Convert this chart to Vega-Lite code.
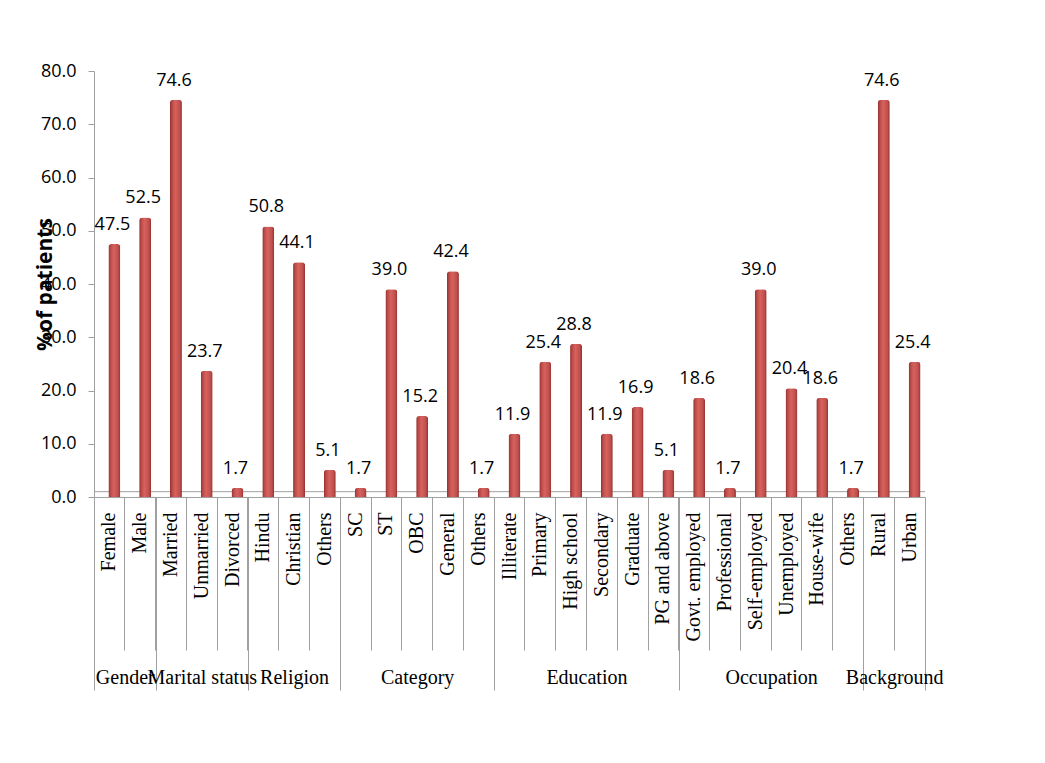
{
  "$schema": "https://vega.github.io/schema/vega-lite/v6.json",
  "width": 831,
  "height": 426,
  "autosize": {"type": "none"},
  "padding": {"left": 94, "top": 71, "right": 120, "bottom": 266},
  "background": "white",
  "config": {"view": {"stroke": null}, "font": "Open Sans"},
  "datasets": {
    "bars": [
      {"key": "Gender|Female", "group": "Gender", "value": 47.5},
      {"key": "Gender|Male", "group": "Gender", "value": 52.5},
      {"key": "Marital status|Married", "group": "Marital status", "value": 74.6},
      {"key": "Marital status|Unmarried", "group": "Marital status", "value": 23.7},
      {"key": "Marital status|Divorced", "group": "Marital status", "value": 1.7},
      {"key": "Religion|Hindu", "group": "Religion", "value": 50.8},
      {"key": "Religion|Christian", "group": "Religion", "value": 44.1},
      {"key": "Religion|Others", "group": "Religion", "value": 5.1},
      {"key": "Category|SC", "group": "Category", "value": 1.7},
      {"key": "Category|ST", "group": "Category", "value": 39.0},
      {"key": "Category|OBC", "group": "Category", "value": 15.2},
      {"key": "Category|General", "group": "Category", "value": 42.4},
      {"key": "Category|Others", "group": "Category", "value": 1.7},
      {"key": "Education|Illiterate", "group": "Education", "value": 11.9},
      {"key": "Education|Primary", "group": "Education", "value": 25.4},
      {"key": "Education|High school", "group": "Education", "value": 28.8},
      {"key": "Education|Secondary", "group": "Education", "value": 11.9},
      {"key": "Education|Graduate", "group": "Education", "value": 16.9},
      {"key": "Education|PG and above", "group": "Education", "value": 5.1},
      {"key": "Occupation|Govt. employed", "group": "Occupation", "value": 18.6},
      {"key": "Occupation|Professional", "group": "Occupation", "value": 1.7},
      {"key": "Occupation|Self-employed", "group": "Occupation", "value": 39.0},
      {"key": "Occupation|Unemployed", "group": "Occupation", "value": 20.4},
      {"key": "Occupation|House-wife", "group": "Occupation", "value": 18.6},
      {"key": "Occupation|Others", "group": "Occupation", "value": 1.7},
      {"key": "Background|Rural", "group": "Background", "value": 74.6},
      {"key": "Background|Urban", "group": "Background", "value": 25.4}
    ]
  },
  "layer": [
    {
      "data": {"values": [{"floor": 1}]},
      "mark": {"type": "rule", "color": "#A0A0A0", "strokeWidth": 1},
      "encoding": {
        "y": {
          "field": "floor",
          "type": "quantitative",
          "scale": {"domain": [0, 80], "nice": false},
          "axis": {
            "values": [0, 10, 20, 30, 40, 50, 60, 70, 80],
            "format": ".1f",
            "grid": false,
            "domainColor": "#A0A0A0",
            "tickColor": "#A0A0A0",
            "tickSize": 6,
            "labelPadding": 12,
            "labelFont": "Open Sans",
            "labelFontSize": 18,
            "labelColor": "#000000",
            "title": "%of patients",
            "titleFont": "Open Sans",
            "titleFontSize": 21,
            "titleFontWeight": "bold",
            "titleColor": "#000000",
            "titleAngle": -90,
            "titleX": -49,
            "titleY": 213,
            "titleAlign": "center",
            "titleBaseline": "middle"
          }
        }
      }
    },
    {
      "data": {"name": "bars"},
      "encoding": {
        "x": {
          "field": "key",
          "type": "nominal",
          "sort": null,
          "scale": {"paddingInner": 0, "paddingOuter": 0},
          "axis": {
            "orient": "bottom",
            "title": null,
            "labelExpr": "split(datum.value, '|')[1]",
            "bandPosition": 0,
            "tickSize": 153,
            "tickColor": "#A0A0A0",
            "domainColor": "#A0A0A0",
            "labelAngle": -90,
            "labelAlign": "right",
            "labelBaseline": "middle",
            "labelPadding": -138,
            "labelFont": "Liberation Serif",
            "labelFontSize": 20,
            "labelColor": "#000000",
            "labelOverlap": false,
            "labelLimit": 0,
            "grid": false
          }
        },
        "y": {
          "field": "value",
          "type": "quantitative",
          "title": "%of patients"
        }
      },
      "layer": [
        {
          "mark": {
            "type": "bar",
            "width": 12,
            "xOffset": 5,
            "cornerRadiusTopLeft": 3,
            "cornerRadiusTopRight": 3,
            "color": {
              "gradient": "linear",
              "x1": 0, "y1": 0, "x2": 1, "y2": 0,
              "stops": [
                {"offset": 0, "color": "#93302D"},
                {"offset": 0.2, "color": "#BE4D4A"},
                {"offset": 0.45, "color": "#D6625F"},
                {"offset": 0.8, "color": "#C0504D"},
                {"offset": 1, "color": "#93302D"}
              ]
            }
          }
        },
        {
          "mark": {
            "type": "text",
            "dx": 3,
            "dy": -14,
            "baseline": "alphabetic",
            "align": "center",
            "font": "Open Sans",
            "fontSize": 18,
            "color": "#000000"
          },
          "encoding": {"text": {"field": "value", "type": "quantitative", "format": ".1f"}}
        }
      ]
    },
    {
      "data": {"values": [{"edge": 0}, {"edge": 27}]},
      "mark": {"type": "point", "opacity": 0},
      "encoding": {
        "x": {
          "field": "edge",
          "type": "quantitative",
          "scale": {"domain": [0, 27], "nice": false, "zero": false},
          "axis": {
            "orient": "bottom",
            "title": null,
            "values": [0, 2, 5, 8, 13, 19, 25, 27],
            "tickSize": 193,
            "tickColor": "#A0A0A0",
            "labels": false,
            "domain": false,
            "grid": false
          }
        }
      }
    },
    {
      "data": {"values": [{"edge": 0}, {"edge": 27}]},
      "mark": {"type": "point", "opacity": 0},
      "encoding": {
        "x": {
          "field": "edge",
          "type": "quantitative",
          "scale": {"domain": [0, 27], "nice": false, "zero": false},
          "axis": {
            "orient": "bottom",
            "title": null,
            "values": [1, 3.5, 6.5, 10.5, 16, 22, 26],
            "labelExpr": "datum.value == 1 ? 'Gender' : datum.value == 3.5 ? 'Marital status' : datum.value == 6.5 ? 'Religion' : datum.value == 10.5 ? 'Category' : datum.value == 16 ? 'Education' : datum.value == 22 ? 'Occupation' : 'Background'",
            "ticks": false,
            "tickSize": 0,
            "domain": false,
            "grid": false,
            "labelPadding": 186,
            "labelBaseline": "alphabetic",
            "labelAlign": "center",
            "labelFont": "Liberation Serif",
            "labelFontSize": 20,
            "labelColor": "#000000",
            "labelOverlap": false,
            "labelFlush": false,
            "labelLimit": 0
          }
        }
      }
    }
  ],
  "resolve": {"scale": {"x": "independent"}}
}
